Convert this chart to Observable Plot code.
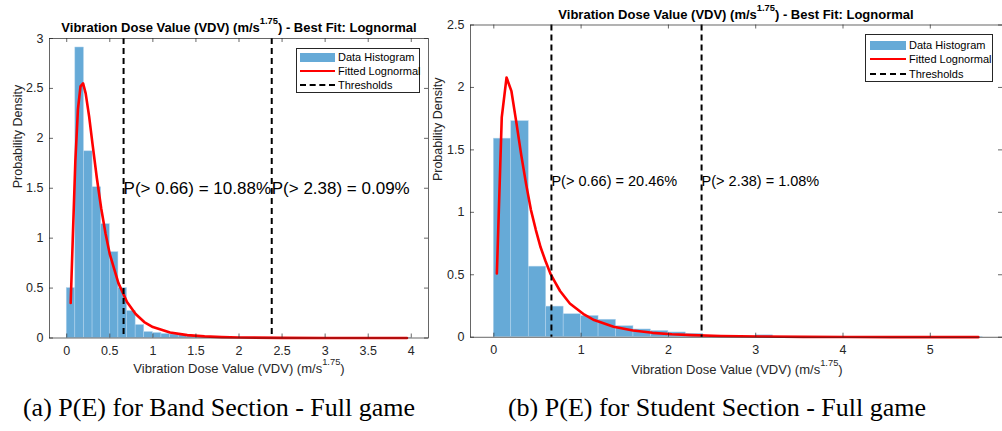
<!DOCTYPE html>
<html><head><meta charset="utf-8">
<script src="https://cdn.jsdelivr.net/npm/d3@7"></script>
<script src="https://cdn.jsdelivr.net/npm/@observablehq/plot@0.6"></script>
<style>
html,body{margin:0;padding:0;background:#fff;}
#wrap{position:relative;width:1002px;height:431px;overflow:hidden;font-family:"Liberation Sans",Arial,sans-serif;}
.abs{position:absolute;white-space:nowrap;}
.title{font-weight:bold;font-size:13px;color:#000;transform:translate(-50%,-50%);}
.xlab{font-size:13px;color:#262626;transform:translate(-50%,-50%);}
sup{font-size:0.72em;vertical-align:top;position:relative;top:-0.35em;line-height:1;}
.cap{font-family:"Liberation Serif","Times New Roman",serif;font-size:26px;color:#000;transform:translate(-50%,-50%);}
.legend{position:absolute;box-sizing:border-box;border:1px solid #262626;background:#fff;font-size:11px;color:#000;}
.legend .row{position:absolute;left:0;width:10px;height:14px;}
.legend .txt{position:absolute;top:0;line-height:14px;white-space:nowrap;}
</style></head><body><div id="wrap"></div>
<script>
// ---------- data ----------
const titleText = 'Vibration Dose Value (VDV) (m/s<sup>1.75</sup>) - Best Fit: Lognormal';
const xLabelText = 'Vibration Dose Value (VDV) (m/s<sup>1.75</sup>)';
const yLabelText = 'Probability Density';
const legendLabels = ['Data Histogram', 'Fitted Lognormal', 'Thresholds'];

// (a) Band section
const bandBinWidth = 0.1;
const bandDensity = [0.50, 2.91, 1.87, 1.51, 1.14, 0.86, 0.50, 0.27, 0.13, 0.06,
  0.05, 0.04, 0.035, 0.03, 0.02, 0.015, 0.01, 0.01, 0.006, 0.005,
  0.005, 0.004, 0.003, 0.003, 0.002, 0.002, 0.002, 0.001, 0.001, 0.001,
  0.001, 0.001, 0.001, 0.001, 0.001, 0.001, 0.001, 0.001, 0.001, 0.001];
const bandFitX = [0.046, 0.07, 0.10, 0.13, 0.16, 0.19, 0.22, 0.26, 0.30, 0.35, 0.40, 0.45, 0.50,
  0.60, 0.70, 0.80, 0.90, 1.0, 1.2, 1.4, 1.6, 1.8, 2.0, 2.5, 3.0, 3.5, 3.95];
const bandFitY = [0.35, 0.99, 1.77, 2.29, 2.52, 2.55, 2.45, 2.22, 1.94, 1.60, 1.30, 1.05, 0.84,
  0.55, 0.36, 0.24, 0.16, 0.11, 0.055, 0.029, 0.016, 0.009, 0.005, 0.0016, 0.0005, 0.0002, 0.0001];
const bandThresholds = [0.66, 2.38];
const bandProbs = ['10.88%', '0.09%'];
const bandXTicks = [0, 0.5, 1, 1.5, 2, 2.5, 3, 3.5, 4];
const bandYTicks = [0, 0.5, 1, 1.5, 2, 2.5, 3];
const bandCaption = '(a) P(E) for Band Section - Full game';

// (b) Student section
const studentBinWidth = 0.2;
const studentDensity = [1.59, 1.73, 0.565, 0.245, 0.184, 0.17, 0.14, 0.088, 0.062, 0.05,
  0.038, 0.027, 0.012, 0.008, 0.005, 0.015, 0.004, 0.003, 0.003, 0.002,
  0.002, 0.002, 0.001, 0.001, 0.001, 0.001, 0.001, 0.001];
const studentFitX = [0.035, 0.091, 0.146, 0.202, 0.258, 0.314, 0.369, 0.425, 0.481, 0.536, 0.592,
  0.648, 0.703, 0.759, 0.815, 0.871, 0.926, 1.038, 1.149, 1.372, 1.595, 1.817, 2.040, 2.263,
  2.597, 3.043, 3.544, 4.045, 4.547, 5.048, 5.55];
const studentFitY = [0.51, 1.76, 2.08, 1.97, 1.72, 1.46, 1.23, 1.02, 0.86, 0.72, 0.61,
  0.51, 0.44, 0.37, 0.32, 0.27, 0.24, 0.18, 0.137, 0.084, 0.053, 0.035, 0.024, 0.0165,
  0.010, 0.0054, 0.0029, 0.0017, 0.001, 0.0006, 0.0004];
const studentThresholds = [0.66, 2.38];
const studentProbs = ['20.46%', '1.08%'];
const studentXTicks = [0, 1, 2, 3, 4, 5];
const studentYTicks = [0, 0.5, 1, 1.5, 2, 2.5];
const studentCaption = '(b) P(E) for Student Section - Full game';

// ---------- drawing ----------
const wrap = document.getElementById('wrap');
const FONT = '"Liberation Sans", Arial, sans-serif';
const AX = '#262626';

function chart(c) {
  const innerH = c.height - c.mt - c.mb;
  const innerW = c.width - c.ml - c.mr;
  const bins = c.dens.map((d, i) => ({x1: i * c.bw, x2: (i + 1) * c.bw, y: d}));
  const fit = c.fitX.map((x, i) => ({x, y: c.fitY[i]}));
  const ann = c.thr.map((t, i) => ({x: t, y: c.annY, label: `P(> ${t}) = ${c.probs[i]}`}));
  const marks = [
    Plot.rect(bins, {x1: 'x1', x2: 'x2', y1: 0, y2: 'y', fill: '#66aad7', stroke: '#b5d5ee', strokeWidth: 0.5}),
    Plot.line(fit, {x: 'x', y: 'y', stroke: '#ff0000', strokeWidth: 2.6}),
    Plot.ruleX(c.thr, {stroke: '#000', strokeWidth: 2, strokeDasharray: '6,4'}),
    Plot.text(ann, {x: 'x', y: 'y', text: 'label', textAnchor: 'start', fontSize: c.annSize, fill: '#000'}),
    Plot.frame({stroke: AX, strokeWidth: 0.7}),
    Plot.ruleX(c.xt, {stroke: AX, strokeWidth: 0.7, insetTop: innerH - 4}),
    Plot.ruleX(c.xt, {stroke: AX, strokeWidth: 0.7, insetBottom: innerH - 4}),
    Plot.ruleY(c.yt, {stroke: AX, strokeWidth: 0.7, insetRight: innerW - 4}),
    Plot.ruleY(c.yt, {stroke: AX, strokeWidth: 0.7, insetLeft: innerW - 4}),
    Plot.axisX({ticks: c.xt, tickSize: 0, tickPadding: 8, label: null, color: AX, fontSize: 12.5, tickFormat: d => String(d)}),
    Plot.axisY({ticks: c.yt, tickSize: 0, tickPadding: 6, label: null, color: AX, fontSize: 12.5, tickFormat: d => String(d)}),
    Plot.text([yLabelText], {frameAnchor: 'left', dx: c.ylDx, rotate: -90, fontSize: 12.5, fill: AX})
  ];
  const svg = Plot.plot({
    width: c.width, height: c.height,
    marginLeft: c.ml, marginRight: c.mr, marginTop: c.mt, marginBottom: c.mb,
    x: {domain: c.xDomain}, y: {domain: c.yDomain},
    style: {background: 'transparent', fontFamily: FONT, fontSize: '12.5px', overflow: 'visible'},
    marks
  });
  svg.style.position = 'absolute';
  svg.style.left = c.left + 'px';
  svg.style.top = '0px';
  svg.style.maxWidth = 'none';
  wrap.appendChild(svg);
}

chart({left: 0, width: 470, height: 380, ml: 49, mr: 42, mt: 38, mb: 42.5,
  xDomain: [-0.2, 4.2], yDomain: [0, 3], bw: bandBinWidth, dens: bandDensity,
  fitX: bandFitX, fitY: bandFitY, thr: bandThresholds, probs: bandProbs, annY: 1.5, annSize: 17,
  xt: bandXTicks, yt: bandYTicks, ylDx: -32});

chart({left: 420, width: 582, height: 380, ml: 50, mr: 0, mt: 24.5, mb: 43.3,
  xDomain: [-0.267, 5.827], yDomain: [0, 2.5], bw: studentBinWidth, dens: studentDensity,
  fitX: studentFitX, fitY: studentFitY, thr: studentThresholds, probs: studentProbs, annY: 1.25, annSize: 14.5,
  xt: studentXTicks, yt: studentYTicks, ylDx: -33});

function addText(cls, html, x, y) {
  const d = document.createElement('div');
  d.className = 'abs ' + cls;
  d.innerHTML = html;
  d.style.left = x + 'px';
  d.style.top = y + 'px';
  wrap.appendChild(d);
}
addText('title', titleText, 239, 27);
addText('title', titleText, 736, 14);
addText('xlab', xLabelText, 239, 368);
addText('xlab', xLabelText, 737, 369);
addText('cap', bandCaption, 219, 408);
addText('cap', studentCaption, 717, 408);

function legend(x, y, w, h, rowTops, swX, swW, txtX) {
  const box = document.createElement('div');
  box.className = 'legend';
  Object.assign(box.style, {left: x + 'px', top: y + 'px', width: w + 'px', height: h + 'px'});
  legendLabels.forEach((lab, i) => {
    const row = document.createElement('div');
    row.className = 'row';
    row.style.top = rowTops[i] + 'px';
    const sw = document.createElement('div');
    sw.style.position = 'absolute';
    sw.style.left = swX + 'px';
    sw.style.width = swW + 'px';
    if (i === 0) { sw.style.top = '3px'; sw.style.height = '9px'; sw.style.background = '#66aad7'; }
    else if (i === 1) { sw.style.top = '6px'; sw.style.height = '0px'; sw.style.borderTop = '2.5px solid #ff0000'; }
    else { sw.style.top = '6px'; sw.style.height = '0px'; sw.style.borderTop = '2px dashed #000'; }
    row.appendChild(sw);
    const t = document.createElement('div');
    t.className = 'txt';
    t.style.left = txtX + 'px';
    t.textContent = lab;
    row.appendChild(t);
    box.appendChild(row);
  });
  wrap.appendChild(box);
}
legend(296, 48, 124, 45, [1, 15, 29], 3, 35, 41);
legend(865, 34, 128, 48, [3, 17, 31.5], 4, 36, 43);
</script></body></html>
